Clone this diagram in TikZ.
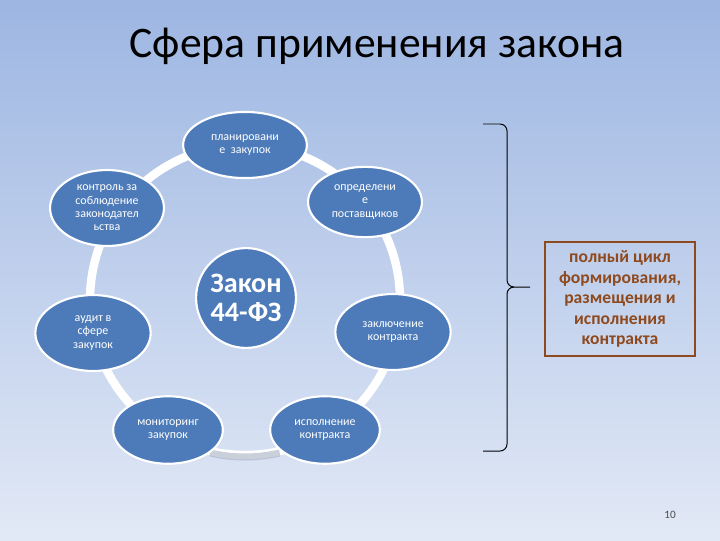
\documentclass[tikz,border=0pt]{standalone}
\usepackage{fontspec}
\setmainfont{Carlito}
\usetikzlibrary{shapes.geometric}
\definecolor{bgtop}{HTML}{9DB6E2}
\definecolor{bgbot}{HTML}{E2E9F6}
\definecolor{blob}{HTML}{4D7BB9}
\definecolor{brn}{HTML}{8E4A1E}
\tikzset{
  el/.style={ellipse,fill=blob,draw=white,line width=1.5pt,text=white,align=center,
    font=\fontsize{8.5}{9.5}\selectfont,inner sep=0pt},
}
\begin{document}
\begin{tikzpicture}[x=0.025cm,y=-0.025cm]
\useasboundingbox (0,0) rectangle (720,540);
\shade[top color=bgtop,bottom color=bgbot] (0,0) rectangle (720,540);
\node[font=\fontsize{31}{34}\selectfont] (title) at (377,46) {Сфера применения закона};
% ring
\draw[white,line width=6pt] (245,300) circle (155);
\draw[blob!40!gray!60,line width=5pt,opacity=0.6] (210,453) arc (103:77:155);
\node[el,minimum width=88pt,minimum height=47pt] (p1) at (245,145) {планировани\\е\ \ закупок};
\node[el,minimum width=81pt,minimum height=50pt] (p2) at (365,202) {определени\\е\\поставщиков};
\node[el,minimum width=82pt,minimum height=54pt] (p3) at (393,332) {заключение\\контракта};
\node[el,minimum width=78pt,minimum height=48pt] (p4) at (325,430) {исполнение\\контракта};
\node[el,minimum width=78pt,minimum height=48pt] (p5) at (168,430) {мониторинг\\закупок};
\node[el,minimum width=82pt,minimum height=54pt] (p6) at (93,333) {аудит в\\сфере\\закупок};
\node[el,minimum width=81pt,minimum height=54pt] (p7) at (107,208) {контроль за\\соблюдение\\законодател\\ьства};
\node[circle,fill=blob,draw=white,line width=1.5pt,text=white,align=center,minimum size=71pt,inner sep=0pt,
  font=\fontsize{20}{21}\selectfont\bfseries] (c) at (246,298) {Закон\\44-ФЗ};
% brace
\coordinate (bt) at (483,124);
\coordinate (bb) at (483,451);
\coordinate (tip) at (530,287);
\draw[line width=0.7pt] (bt) -- (500,124) to[out=0,in=90] (507,131) -- (507,280)
  to[out=-90,in=180] (514,287) -- (tip);
\draw[line width=0.7pt] (bb) -- (500,451) to[out=0,in=-90] (507,444) -- (507,294)
  to[out=90,in=180] (514,287);
\node[draw=brn,line width=1.4pt,text=brn,align=center,minimum width=107pt,minimum height=81pt,
  font=\fontsize{12.5}{14.5}\selectfont\bfseries] (box) at (620,299)
  {полный цикл\\формирования,\\размещения и\\исполнения\\контракта};
\node[font=\fontsize{8}{9}\selectfont,text=black!70] (num) at (670,515) {10};
\end{tikzpicture}
\end{document}
